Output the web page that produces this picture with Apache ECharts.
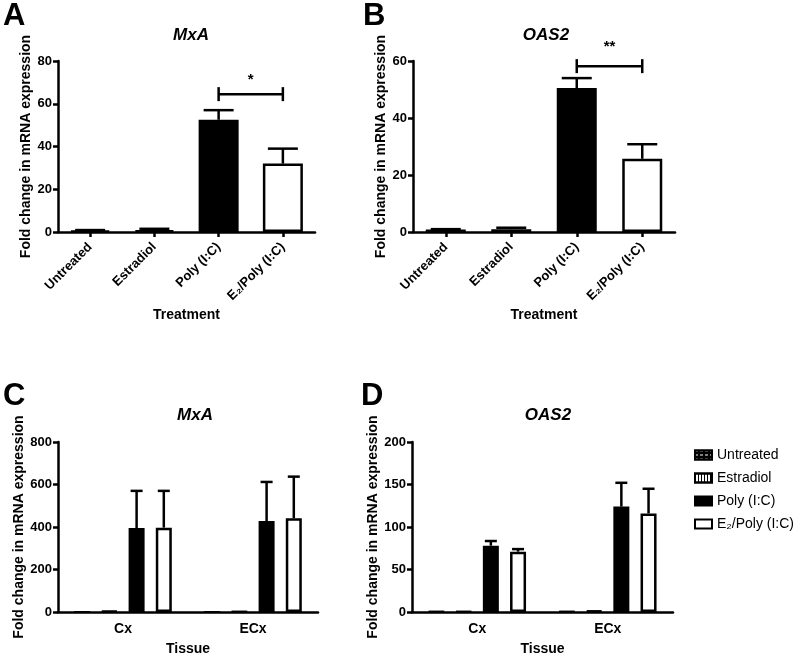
<!DOCTYPE html>
<html><head><meta charset="utf-8">
<script src="https://cdn.jsdelivr.net/npm/echarts@6/dist/echarts.min.js"></script>
<style>html,body{margin:0;padding:0;background:#fff}#c{width:800px;height:658px}</style>
</head><body><div id="c"></div>
<script>
// ---- data ----
const treatments = ['Untreated', 'Estradiol', 'Poly (I:C)', 'E₂/Poly (I:C)'];
const mxaTreatMean = [0.8, 0.9, 52.5, 32.0];
const mxaTreatUpper = [0.9, 1.5, 57.0, 39.0];
const oas2TreatMean = [0.9, 1.0, 50.5, 25.7];
const oas2TreatUpper = [1.0, 1.5, 54.0, 30.8];
const mxaSig = [2, 3, 64.5, 71];   // from, to, bracket y, label y
const oas2Sig = [2, 3, 58.2, 65];
const mxaSigText = '*';
const oas2SigText = '**';

const tissues = ['Cx', 'ECx'];
const groupNames = ['Untreated', 'Estradiol', 'Poly (I:C)', 'E₂/Poly (I:C)'];
const mxaTisUntreated = [1, 1];
const mxaTisEstradiol = [4, 2];
const mxaTisPoly = [395, 428];
const mxaTisPolyUpper = [570, 612];
const mxaTisE2 = [397, 441];
const mxaTisE2Upper = [570, 637];
const oasTisUntreated = [0.5, 0.5];
const oasTisEstradiol = [0.8, 1.5];
const oasTisPoly = [78, 124];
const oasTisPolyUpper = [83.5, 152];
const oasTisE2 = [71, 116];
const oasTisE2Upper = [74, 145];

const yMaxA = 80, yStepA = 20;
const yMaxB = 60, yStepB = 20;
const yMaxC = 800, yStepC = 200;
const yMaxD = 200, yStepD = 50;

// ---- styles ----
const FONT = '"Liberation Sans", Arial, sans-serif';
const LW = 2.5;
const blackItem = { color: '#000', borderColor: '#000', borderWidth: 2 };
const whiteItem = { color: '#fff', borderColor: '#000', borderWidth: LW };
const untreatedItem = { color: '#000', borderColor: '#000', borderWidth: 2,
  decal: { symbol: 'rect', color: '#fff', dashArrayX: [3, 2], dashArrayY: [1, 3], symbolSize: 1, rotation: 0 } };
const estradiolItem = { color: '#fff', borderColor: '#000', borderWidth: 2,
  decal: { symbol: 'rect', color: '#000', dashArrayX: [1, 2], dashArrayY: [10, 0], symbolSize: 1, rotation: 0 } };
const groupStyles = [untreatedItem, estradiolItem, blackItem, whiteItem];

const BW_SMALL = 16, GAP_SMALL = 0.7;

function errorRender(offset, capW) {
  return function (params, api) {
    const c = api.value(0);
    const p0 = api.coord([c, api.value(1)]);
    const p1 = api.coord([c, api.value(2)]);
    const x = p0[0] + offset;
    return { type: 'group', children: [
      { type: 'line', shape: { x1: x, y1: p0[1], x2: x, y2: p1[1] }, style: { stroke: '#000', lineWidth: LW } },
      { type: 'line', shape: { x1: x - capW / 2, y1: p1[1], x2: x + capW / 2, y2: p1[1] }, style: { stroke: '#000', lineWidth: LW } }
    ]};
  };
}
function sigRender(text) {
  return function (params, api) {
    const a = api.coord([api.value(0), api.value(2)]);
    const b = api.coord([api.value(1), api.value(2)]);
    const t = api.coord([(api.value(0) + api.value(1)) / 2, api.value(3)]);
    const tx = (a[0] + b[0]) / 2;
    return { type: 'group', children: [
      { type: 'line', shape: { x1: a[0], y1: a[1], x2: b[0], y2: b[1] }, style: { stroke: '#000', lineWidth: LW } },
      { type: 'line', shape: { x1: a[0], y1: a[1] - 7, x2: a[0], y2: a[1] + 7 }, style: { stroke: '#000', lineWidth: LW } },
      { type: 'line', shape: { x1: b[0], y1: b[1] - 7, x2: b[0], y2: b[1] + 7 }, style: { stroke: '#000', lineWidth: LW } },
      { type: 'text', style: { text: text, x: tx, y: t[1], align: 'center', verticalAlign: 'middle',
        font: 'bold 15px ' + FONT, fill: '#000' } }
    ]};
  };
}

const grids = [
  { left: 58, top: 61, width: 257, height: 171 },
  { left: 413, top: 61, width: 262, height: 171 },
  { left: 58, top: 442, width: 260, height: 170 },
  { left: 412, top: 442, width: 261, height: 170 }
];

const axisLine = { lineStyle: { color: '#000', width: LW } };
function yAxis(idx, max, step, gap) {
  return { type: 'value', gridIndex: idx, min: 0, max: max, interval: step,
    name: 'Fold change in mRNA expression', nameLocation: 'middle', nameGap: gap,
    nameTextStyle: { fontFamily: FONT, fontWeight: 'bold', fontSize: 14, color: '#000' },
    axisLine: { show: true, ...axisLine },
    axisTick: { show: true, length: 5, lineStyle: { color: '#000', width: LW } },
    axisLabel: { fontFamily: FONT, fontWeight: 'bold', fontSize: 13, color: '#000', margin: 6 },
    splitLine: { show: false } };
}
function xTreat(idx) {
  return { type: 'category', gridIndex: idx, data: treatments,
    name: 'Treatment', nameLocation: 'middle', nameGap: 76,
    nameTextStyle: { fontFamily: FONT, fontWeight: 'bold', fontSize: 14, color: '#000' },
    axisLine: axisLine,
    axisTick: { show: true, alignWithLabel: true, length: 5, lineStyle: { color: '#000', width: LW } },
    axisLabel: { rotate: 45, interval: 0, fontFamily: FONT, fontWeight: 'bold', fontSize: 13, color: '#000', margin: 13 } };
}
function xTissue(idx) {
  return { type: 'category', gridIndex: idx, data: tissues,
    name: 'Tissue', nameLocation: 'middle', nameGap: 30,
    nameTextStyle: { fontFamily: FONT, fontWeight: 'bold', fontSize: 14, color: '#000' },
    axisLine: axisLine,
    axisTick: { show: false },
    axisLabel: { interval: 0, fontFamily: FONT, fontWeight: 'bold', fontSize: 14, color: '#000', margin: 10 } };
}

function treatBars(idx, means) {
  return { type: 'bar', xAxisIndex: idx, yAxisIndex: idx, barWidth: 40, silent: true,
    data: means.map((v, i) => ({ value: v, itemStyle: i === 3 ? whiteItem : blackItem })), z: 2 };
}
function treatErr(idx, means, uppers) {
  return { type: 'custom', xAxisIndex: idx, yAxisIndex: idx, silent: true, z: 3,
    renderItem: errorRender(0, 30), data: means.map((m, i) => [i, m, uppers[i]]) };
}

const series = [
  treatBars(0, mxaTreatMean), treatErr(0, mxaTreatMean, mxaTreatUpper),
  { type: 'custom', xAxisIndex: 0, yAxisIndex: 0, silent: true, z: 3, renderItem: sigRender(mxaSigText), data: [mxaSig] },
  treatBars(1, oas2TreatMean), treatErr(1, oas2TreatMean, oas2TreatUpper),
  { type: 'custom', xAxisIndex: 1, yAxisIndex: 1, silent: true, z: 3, renderItem: sigRender(oas2SigText), data: [oas2Sig] }
];

const cSets = [mxaTisUntreated, mxaTisEstradiol, mxaTisPoly, mxaTisE2];
const dSets = [oasTisUntreated, oasTisEstradiol, oasTisPoly, oasTisE2];
[[2, cSets], [3, dSets]].forEach(([idx, sets]) => {
  sets.forEach((vals, g) => {
    series.push({ type: 'bar', name: groupNames[g], xAxisIndex: idx, yAxisIndex: idx,
      barWidth: BW_SMALL, barGap: (GAP_SMALL * 100) + '%', silent: true,
      itemStyle: groupStyles[g], data: vals, z: 2 });
  });
});
const step = BW_SMALL * (1 + GAP_SMALL);
[[2, mxaTisPoly, mxaTisPolyUpper, 2], [2, mxaTisE2, mxaTisE2Upper, 3],
 [3, oasTisPoly, oasTisPolyUpper, 2], [3, oasTisE2, oasTisE2Upper, 3]].forEach(([idx, m, u, g]) => {
  series.push({ type: 'custom', xAxisIndex: idx, yAxisIndex: idx, silent: true, z: 3,
    renderItem: errorRender((g - 1.5) * step, 12), data: m.map((v, i) => [i, v, u[i]]) });
});

const letterStyle = { fontFamily: FONT, fontWeight: 'bold', fontSize: 31, color: '#000' };
const titleStyle = { fontFamily: FONT, fontWeight: 'bold', fontStyle: 'italic', fontSize: 17, color: '#000' };

const option = {
  animation: false,
  backgroundColor: '#fff',
  title: [
    { text: 'A', left: -2, top: -4, textStyle: letterStyle },
    { text: 'B', left: 358, top: -4, textStyle: letterStyle },
    { text: 'C', left: -2, top: 376, textStyle: letterStyle },
    { text: 'D', left: 356, top: 376, textStyle: letterStyle },
    { text: 'MxA', left: 186, top: 22, textAlign: 'center', textStyle: titleStyle },
    { text: 'OAS2', left: 541, top: 22, textAlign: 'center', textStyle: titleStyle },
    { text: 'MxA', left: 190, top: 402, textAlign: 'center', textStyle: titleStyle },
    { text: 'OAS2', left: 543, top: 402, textAlign: 'center', textStyle: titleStyle }
  ],
  legend: { data: groupNames, orient: 'vertical', left: 689, top: 443, itemWidth: 17, itemHeight: 9,
    itemGap: 9, icon: 'rect', selectedMode: false,
    textStyle: { fontFamily: FONT, fontSize: 14, color: '#000' } },
  grid: grids,
  xAxis: [xTreat(0), xTreat(1), xTissue(2), xTissue(3)],
  yAxis: [yAxis(0, yMaxA, yStepA, 25), yAxis(1, yMaxB, yStepB, 25), yAxis(2, yMaxC, yStepC, 23), yAxis(3, yMaxD, yStepD, 23)],
  series: series
};
echarts.init(document.getElementById('c'), null, { renderer: 'canvas' }).setOption(option);
</script></body></html>
